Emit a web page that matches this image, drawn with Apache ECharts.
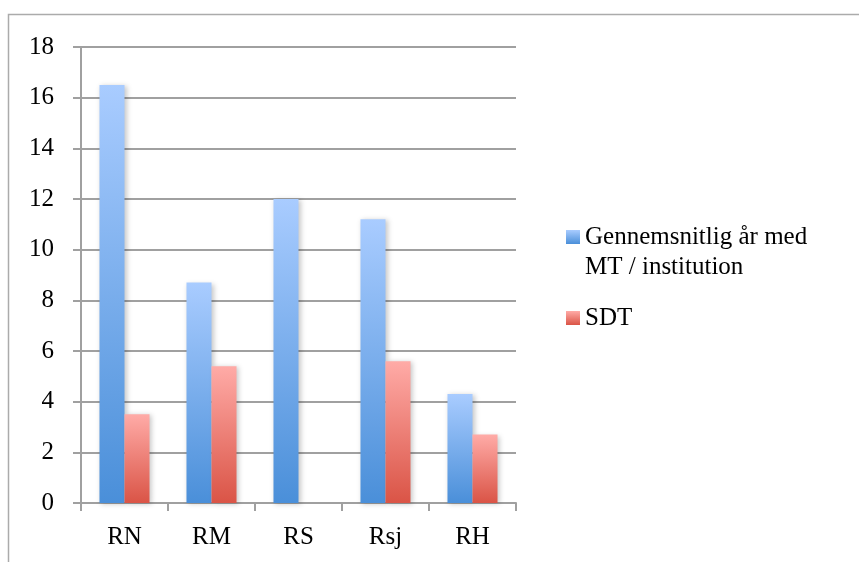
<!DOCTYPE html>
<html>
<head>
<meta charset="utf-8">
<script src="https://cdn.jsdelivr.net/npm/echarts@6/dist/echarts.min.js"></script>
<style>html,body{margin:0;padding:0;background:#fff;}#c{width:859px;height:562px;}</style>
</head>
<body>
<div id="c"></div>
<script>
var categories = ['RN', 'RM', 'RS', 'Rsj', 'RH'];
var seriesNames = ['Gennemsnitlig år med MT / institution', 'SDT'];
var avgYears = [16.5, 8.7, 12.0, 11.2, 4.3];
var sdt = [3.5, 5.4, null, 5.6, 2.7];
var yTicks = { min: 0, max: 18, interval: 2 };

var FONT = 'Liberation Serif';
function grad(top, bottom) {
  return new echarts.graphic.LinearGradient(0, 0, 0, 1, [
    { offset: 0, color: top }, { offset: 1, color: bottom }
  ]);
}
var chart = echarts.init(document.getElementById('c'), null, { renderer: 'canvas' });
chart.setOption({
  animation: false,
  backgroundColor: '#ffffff',
  graphic: [{
    type: 'rect', left: 6, top: 12, silent: true,
    shape: { x: 0, y: 0, width: 900, height: 600 },
    style: { fill: 'none', stroke: '#ababab', lineWidth: 1.5 }
  }],
  grid: { left: 81, right: 343, top: 47, bottom: 59, containLabel: false },
  xAxis: {
    type: 'category',
    data: categories,
    axisLine: { show: true, lineStyle: { color: '#a0a0a0', width: 2 } },
    axisTick: { show: true, length: 8, alignWithLabel: false, lineStyle: { color: '#a0a0a0', width: 2 } },
    axisLabel: { color: '#000', fontFamily: FONT, fontSize: 25, margin: 22 }
  },
  yAxis: {
    type: 'value',
    min: yTicks.min, max: yTicks.max, interval: yTicks.interval,
    axisLine: { show: true, lineStyle: { color: '#a0a0a0', width: 2 } },
    axisTick: { show: true, length: 8, lineStyle: { color: '#a0a0a0', width: 2 } },
    splitLine: { show: true, lineStyle: { color: '#a0a0a0', width: 2 } },
    axisLabel: { color: '#000', fontFamily: FONT, fontSize: 25, margin: 27 }
  },
  legend: {
    orient: 'vertical',
    left: 566,
    top: 192,
    padding: 0,
    itemWidth: 14,
    itemHeight: 14,
    itemGap: 21,
    icon: 'rect',
    textStyle: { color: '#000', fontFamily: FONT, fontSize: 25, lineHeight: 30 },
    formatter: function (name) {
      return name === seriesNames[0] ? ' \nGennemsnitlig år med\nMT / institution' : name;
    },
    data: [seriesNames[0], seriesNames[1]]
  },
  series: [{
    name: seriesNames[0],
    type: 'bar',
    data: avgYears,
    barGap: '0%',
    barCategoryGap: '42.5%',
    itemStyle: {
      color: grad('#a9ccff', '#4a8fd9'),
      shadowBlur: 5, shadowColor: 'rgba(0,0,0,0.22)', shadowOffsetX: 2, shadowOffsetY: 1
    }
  }, {
    name: seriesNames[1],
    type: 'bar',
    data: sdt,
    barGap: '0%',
    barCategoryGap: '42.5%',
    itemStyle: {
      color: grad('#ffaba7', '#da5446'),
      shadowBlur: 5, shadowColor: 'rgba(0,0,0,0.22)', shadowOffsetX: 2, shadowOffsetY: 1
    }
  }]
});
</script>
</body>
</html>
